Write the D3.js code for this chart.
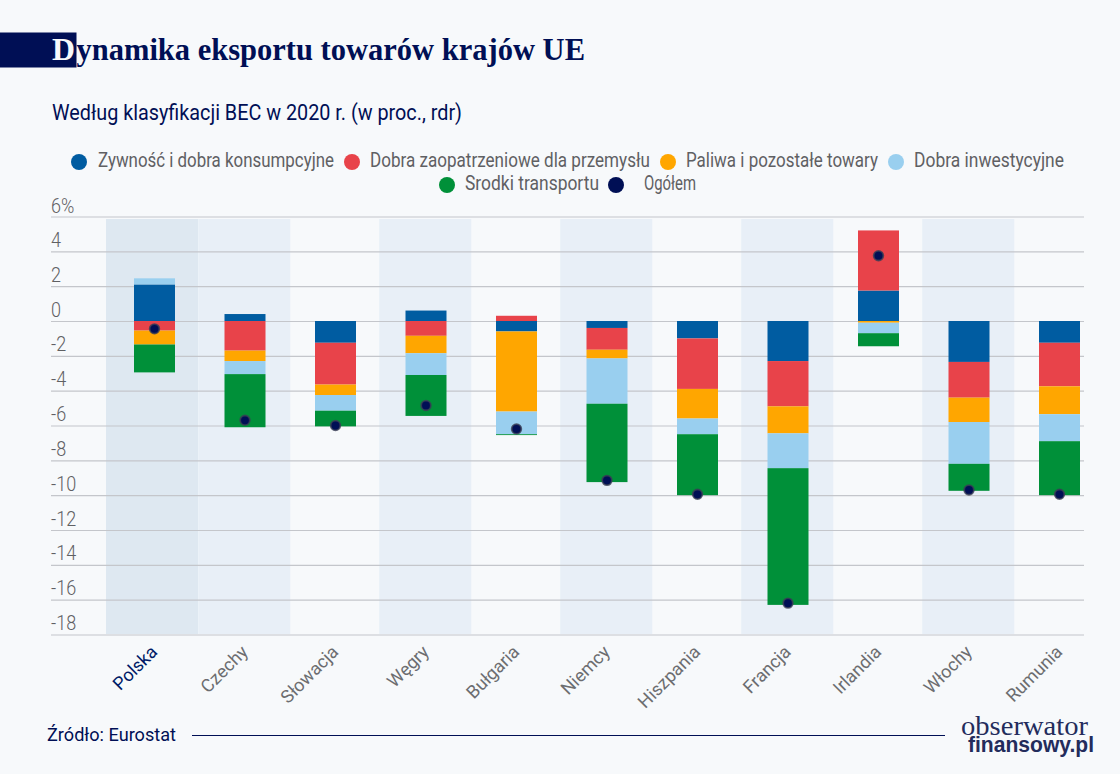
<!DOCTYPE html>
<html><head><meta charset="utf-8">
<script src="https://cdn.jsdelivr.net/npm/d3@7"></script>
<style>
html,body{margin:0;padding:0;background:#f7f9fb;}
svg{display:block;}
text{font-family:"Roboto",sans-serif;}
</style></head><body>
<svg id="c" width="1120" height="774"></svg>
<script>
const titleText = "Dynamika eksportu towarów krajów UE";
const subtitleText = "Według klasyfikacji BEC w 2020 r. (w proc., rdr)";
const sourceText = "Źródło: Eurostat";
const countries = ["Polska","Czechy","Słowacja","Węgry","Bułgaria","Niemcy","Hiszpania","Francja","Irlandia","Włochy","Rumunia"];
const shaded = ["Polska","Czechy","Węgry","Niemcy","Francja","Włochy"];
const legendLabels = ["Zywność i dobra konsumpcyjne","Dobra zaopatrzeniowe dla przemysłu","Paliwa i pozostałe towary","Dobra inwestycyjne","Srodki transportu","Ogółem"];
const colors = ["#005ca1","#e8434a","#ffa600","#99cfef","#009039"];
const totalColor = "#000f55";
const zywnosc   = [ 2.10, 0.40,-1.25, 0.60,-0.60,-0.40,-1.00,-2.30, 1.75,-2.35,-1.25];
const zaopatrz  = [-0.55,-1.70,-2.40,-0.85, 0.30,-1.25,-2.90,-2.60, 3.45,-2.05,-2.50];
const paliwa    = [-0.80,-0.60,-0.60,-1.00,-4.60,-0.50,-1.70,-1.55,-0.10,-1.40,-1.60];
const inwest    = [ 0.35,-0.75,-0.90,-1.25,-1.30,-2.60,-0.90,-2.00,-0.60,-2.40,-1.55];
const transport = [-1.60,-3.05,-0.90,-2.35,-0.05,-4.50,-3.50,-7.85,-0.75,-1.55,-3.10];
const ogolem    = [-0.45,-5.70,-6.00,-4.85,-6.20,-9.15,-9.95,-16.20,3.75,-9.70,-9.95];
const yTicks = [6,4,2,0,-2,-4,-6,-8,-10,-12,-14,-16,-18];

const svg = d3.select("#c");
const y = d3.scaleLinear().domain([-18,6]).range([634.5,216.5]);
const x = d3.scaleBand().domain(countries).range([109.25,1104.75]).paddingInner(0.547).paddingOuter(0.2735);

svg.append("g").selectAll("rect").data(shaded).join("rect")
  .attr("x",d=>d==="Polska"?106:x(d)+x.bandwidth()/2-46.75)
  .attr("width",92)
  .attr("y",219).attr("height",415)
  .attr("fill",d=>d==="Polska"?"#dee8f1":"#e8eff7");

const yAxis = d3.axisLeft(y).tickValues(yTicks).tickSize(0).tickFormat(d=>d===6?"6%":d);
const gy = svg.append("g").attr("transform","translate(51,0)").call(yAxis);
gy.select(".domain").remove();
gy.selectAll(".tick line").attr("x1",0).attr("x2",1033).attr("stroke","#c4c6cb").attr("stroke-width",1.2);
gy.selectAll(".tick text").attr("x",0).attr("y",-5).attr("dy",0).attr("text-anchor","start")
  .attr("fill","#5f6063").style("font-size","20px").style("font-weight",300)
  .each(function(){const l=this.getComputedTextLength();this.setAttribute("textLength",l*0.9);this.setAttribute("lengthAdjust","spacingAndGlyphs");});
gy.selectAll(".tick text").filter(d=>d===6).attr("y",-4);

const stackArrays=[zywnosc,zaopatrz,paliwa,inwest,transport];
countries.forEach((c,i)=>{
  let pos=0,neg=0;
  stackArrays.forEach((arr,k)=>{
    const v=arr[i]; let a,b;
    if(v>=0){a=pos;b=pos+v;pos=b;} else {a=neg;b=neg+v;neg=b;}
    svg.append("rect").attr("x",x(c)).attr("width",x.bandwidth())
      .attr("y",y(Math.max(a,b))).attr("height",Math.abs(y(a)-y(b))).attr("fill",colors[k]);
  });
});
svg.append("g").selectAll("circle").data(countries).join("circle")
  .attr("cx",d=>x(d)+x.bandwidth()/2).attr("cy",(d,i)=>y(ogolem[i])).attr("r",4.8)
  .attr("fill",totalColor).attr("stroke","#3a3f55").attr("stroke-opacity",0.8).attr("stroke-width",1.8);

const xAxis=d3.axisBottom(x).tickSize(0);
const gx=svg.append("g").attr("transform","translate(0,634)").call(xAxis);
gx.select(".domain").remove();
gx.selectAll(".tick text")
  .attr("text-anchor","end").attr("y",0).attr("dy",0)
  .attr("transform","translate(4,19) rotate(-45)")
  .attr("fill",d=>d==="Polska"?"#001a66":"#6c6d70")
  .style("font-size","18px");

svg.append("rect").attr("x",0).attr("y",32.5).attr("width",76.5).attr("height",35).attr("fill",totalColor);
svg.append("text").attr("x",52).attr("y",60).attr("fill","#f7f9fb")
  .attr("textLength",23).attr("lengthAdjust","spacingAndGlyphs")
  .style("font-family","Liberation Serif").style("font-weight",700).style("font-size","31px").text(titleText[0]);
svg.append("text").attr("x",76.5).attr("y",60).attr("fill",totalColor)
  .attr("textLength",508.5).attr("lengthAdjust","spacingAndGlyphs")
  .style("font-family","Liberation Serif").style("font-weight",700).style("font-size","31px").text(titleText.slice(1));
svg.append("text").attr("x",52).attr("y",120).attr("fill",totalColor)
  .attr("textLength",410).attr("lengthAdjust","spacingAndGlyphs")
  .style("font-size","21.5px").text(subtitleText);

const legendX=[79,352,668,896,447,616];
const legendY=[162,162,162,162,185,185];
const legendW=[236,280,192,150,134,52];
const legendG=svg.append("g").selectAll("g").data(legendLabels).join("g");
legendG.append("circle").attr("cx",(d,i)=>legendX[i]).attr("cy",(d,i)=>legendY[i]).attr("r",8)
  .attr("fill",(d,i)=>i<5?colors[i]:totalColor);
legendG.append("text").attr("x",(d,i)=>legendX[i]+(i===5?28:i===0?19:18)).attr("y",(d,i)=>legendY[i]+5)
  .attr("textLength",(d,i)=>legendW[i]).attr("lengthAdjust","spacingAndGlyphs")
  .attr("fill","#5f6063").style("font-size","19.5px").text(d=>d);

svg.append("text").attr("x",47).attr("y",741).attr("fill",totalColor)
  .attr("textLength",129).attr("lengthAdjust","spacingAndGlyphs").style("font-size","19px").text(sourceText);
svg.append("line").attr("x1",192).attr("x2",945).attr("y1",735.5).attr("y2",735.5).attr("stroke",totalColor).attr("stroke-width",1);
svg.append("text").attr("x",961).attr("y",735).attr("fill","#232c5c")
  .attr("textLength",127).attr("lengthAdjust","spacingAndGlyphs")
  .style("font-family","Liberation Serif").style("font-size","27px").text("obserwator");
svg.append("text").attr("x",968).attr("y",751.5).attr("fill","#232c5c")
  .attr("textLength",126).attr("lengthAdjust","spacingAndGlyphs")
  .style("font-family","Liberation Sans").style("font-weight",700).style("font-size","22px").text("finansowy.pl");
</script></body></html>
